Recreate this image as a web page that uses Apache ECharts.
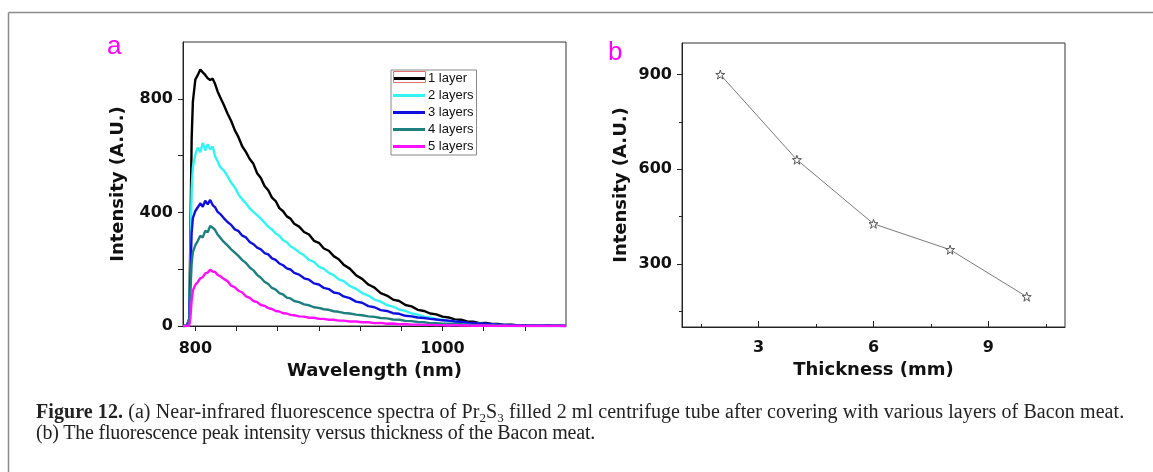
<!DOCTYPE html>
<html>
<head>
<meta charset="utf-8">
<script src="https://cdn.jsdelivr.net/npm/echarts@6.0.0/dist/echarts.min.js"></script>
<style>
  html, body { margin: 0; padding: 0; background: #fff; }
  #wrap { position: relative; width: 1153px; height: 472px; overflow: hidden; }
  #chart { position: absolute; left: 0; top: 0; width: 1153px; height: 472px; }
  #caption { position: absolute; left: 36px; top: 401px; font-family: "Liberation Serif", "DejaVu Serif", serif;
             font-size: 20px; line-height: 21px; color: #222; white-space: nowrap; letter-spacing: 0.08px; }
  #caption sub { font-size: 13px; line-height: 0; vertical-align: -4px; }
  #caption .l2 { letter-spacing: -0.2px; }
</style>
</head>
<body>
<div id="wrap">
  <div id="chart"></div>
  <div id="caption"><b>Figure 12.</b> (a) Near-infrared fluorescence spectra of Pr<sub>2</sub>S<sub>3</sub> filled 2 ml centrifuge tube after covering with various layers of Bacon meat.<br><span class="l2">(b) The fluorescence peak intensity versus thickness of the Bacon meat.</span></div>
</div>
<script>
// ---------- Panel a: NIR fluorescence spectra ----------
const wavelength = [790, 793, 795, 796, 797, 798,
  800, 802, 804, 806, 808, 810, 812, 814, 816, 818, 820,
  823, 826, 829, 832, 835, 838, 841, 844, 847, 850, 853, 856, 859, 862, 865, 868, 871, 874, 877, 880,
  884, 888, 892, 896, 900, 904, 908, 912, 916, 920,
  925, 930, 935, 940, 945, 950, 955, 960, 965, 970, 975, 980, 985, 990, 995, 1000,
  1005, 1010, 1015, 1020, 1025, 1030, 1035, 1040, 1045, 1050,
  1055, 1060, 1065, 1070, 1075, 1080, 1085, 1090, 1095, 1100];

const layer1 = [0, 1, 25, 320, 660, 790,
  868, 884, 903, 893, 884, 872, 866, 871, 852, 826, 806,
  779, 748, 722, 689, 664, 632, 612, 588, 571, 538, 521, 493, 478, 452, 440, 415, 404, 386, 378, 360,
  350, 331, 322, 300, 293, 273, 265, 246, 235, 216,
  202, 179, 166, 146, 135, 116, 107, 93, 88, 74, 69, 57, 53, 44, 41, 33,
  30, 23, 22, 16, 15, 10, 11, 7, 7, 4,
  5, 3, 3, 2, 3, 1, 2, 1, 1, 0];

const layer2 = [0, 1, 20, 250, 480, 560,
  605, 628, 612, 645, 618, 640, 622, 632, 598, 580, 560,
  548, 528, 505, 488, 462, 446, 432, 414, 402, 390, 378, 364, 350, 340, 326, 318, 302, 295, 281, 273,
  260, 249, 233, 226, 209, 201, 187, 179, 164, 158,
  141, 131, 116, 107, 93, 86, 74, 68, 58, 53, 44, 40, 33, 30, 24, 22,
  17, 16, 12, 11, 8, 8, 6, 6, 4, 4,
  3, 3, 2, 2, 1, 1, 0, 1, 0, 0];

const layer3 = [0, 1, 15, 180, 330, 380,
  405, 418, 432, 420, 441, 428, 444, 426, 418, 402, 395,
  380, 366, 356, 340, 334, 318, 312, 296, 288, 276, 270, 257, 252, 238, 233, 220, 214, 203, 199, 187,
  181, 168, 163, 150, 146, 134, 130, 118, 115, 104,
  98, 86, 82, 70, 66, 56, 53, 45, 43, 36, 34, 30, 28, 25, 23, 20,
  19, 16, 15, 12, 11, 8, 8, 6, 5, 4,
  4, 3, 3, 2, 2, 1, 2, 1, 1, 0];

const layer4 = [0, 0, 10, 120, 220, 260,
  285, 300, 318, 312, 335, 330, 352, 346, 338, 322, 312,
  296, 284, 270, 258, 246, 232, 222, 206, 196, 180, 170, 156, 148, 134, 128, 116, 111, 100, 97, 88,
  84, 76, 73, 66, 64, 59, 57, 52, 50, 46,
  44, 40, 38, 34, 32, 28, 27, 23, 22, 18, 17, 14, 13, 10, 10, 8,
  8, 6, 6, 4, 4, 3, 3, 2, 2, 1,
  1, 0, 1, 0, 1, 0, 0, 1, 0, 0];

const layer5 = [0, 0, 0, 30, 90, 125,
  145, 155, 168, 172, 185, 188, 198, 192, 190, 180, 176,
  166, 158, 142, 136, 124, 118, 104, 99, 88, 84, 74, 71, 63, 60, 53, 51, 45, 44, 39, 38,
  34, 33, 29, 29, 25, 25, 22, 22, 19, 19,
  16, 16, 13, 13, 10, 11, 8, 9, 6, 7, 5, 5, 4, 4, 3, 3,
  2, 3, 2, 2, 1, 2, 1, 1, 0, 1,
  0, 1, 0, 0, 1, 0, 0, 0, 0, 0];

const seriesNames = ['1 layer', '2 layers', '3 layers', '4 layers', '5 layers'];
const seriesColors = ['#000000', '#33f3f3', '#1010dd', '#1f7f7f', '#ff10ff'];

const aXTicks = [800, 833.333, 866.667, 900, 933.333, 966.667, 1000, 1033.333, 1066.667];
const aXLabels = [800, 1000];
const aYTicks = [0, 200, 400, 600, 800];
const aYLabels = [0, 400, 800];

// ---------- Panel b: peak intensity vs thickness ----------
const thickness = [2, 4, 6, 8, 10];
const peakIntensity = [900, 630, 427, 345, 196];

const bXMajor = [3, 6, 9];
const bXMinor = [1.5, 4.5, 7.5, 10.5];
const bYMajor = [300, 600, 900];
const bYMinor = [150, 450, 750];

const zip = (xs, ys) => xs.map((x, i) => [x, ys[i]]);
const plain = v => String(Math.round(v));

const boldFont = 'DejaVu Sans';
const axisColor = '#222';

const chart = echarts.init(document.getElementById('chart'), null, { renderer: 'canvas' });

const spectra = [layer1, layer2, layer3, layer4, layer5];

const starPath = 'path://M50,2 L61.5,36 L97,36 L68.5,57.5 L79.5,92 L50,71 L20.5,92 L31.5,57.5 L3,36 L38.5,36 Z';

const labelStyle = { fontFamily: boldFont, fontWeight: 'bold', fontSize: 16, color: '#111', formatter: plain };
const nameStyle = { fontFamily: boldFont, fontWeight: 'bold', fontSize: 18, color: '#111' };

const option = {
  backgroundColor: '#ffffff',
  animation: false,
  grid: [
    { left: 183, top: 42, width: 383, height: 284, show: true, borderColor: '#333', borderWidth: 1, backgroundColor: 'transparent' },
    { left: 682, top: 43, width: 383, height: 284, show: true, borderColor: '#333', borderWidth: 1, backgroundColor: 'transparent' }
  ],
  xAxis: [
    {
      type: 'value', gridIndex: 0, position: 'bottom', min: 790, max: 1100,
      name: 'Wavelength (nm)', nameLocation: 'middle', nameGap: 27, nameTextStyle: nameStyle,
      axisLine: { show: true, onZero: false, lineStyle: { color: axisColor, width: 1 } },
      axisTick: { show: true, inside: false, length: 5, customValues: aXTicks, lineStyle: { color: axisColor } },
      axisLabel: Object.assign({ customValues: aXLabels, margin: 15 }, labelStyle),
      splitLine: { show: false }
    },
    {
      type: 'value', gridIndex: 1, position: 'bottom', min: 1, max: 11,
      name: 'Thickness (mm)', nameLocation: 'middle', nameGap: 29, nameTextStyle: nameStyle,
      axisLine: { show: true, onZero: false, lineStyle: { color: axisColor, width: 1 } },
      axisTick: { show: true, inside: true, length: 6, customValues: bXMajor, lineStyle: { color: axisColor } },
      axisLabel: Object.assign({ customValues: bXMajor, margin: 13 }, labelStyle),
      splitLine: { show: false }
    },
    {
      type: 'value', gridIndex: 1, position: 'bottom', offset: 0, min: 1, max: 11,
      axisLine: { show: false, onZero: false },
      axisTick: { show: true, inside: true, length: 3, customValues: bXMinor, lineStyle: { color: axisColor } },
      axisLabel: { show: false },
      splitLine: { show: false }
    }
  ],
  yAxis: [
    {
      type: 'value', gridIndex: 0, position: 'left', min: 0, max: 1000,
      name: 'Intensity (A.U.)', nameLocation: 'middle', nameGap: 56, nameTextStyle: nameStyle,
      axisLine: { show: true, onZero: false, lineStyle: { color: axisColor, width: 1 } },
      axisTick: { show: true, inside: false, length: 5, customValues: aYTicks, lineStyle: { color: axisColor } },
      axisLabel: Object.assign({ customValues: aYLabels, margin: 10 }, labelStyle),
      splitLine: { show: false }
    },
    {
      type: 'value', gridIndex: 1, position: 'left', min: 100, max: 1000,
      name: 'Intensity (A.U.)', nameLocation: 'middle', nameGap: 52, nameTextStyle: nameStyle,
      axisLine: { show: true, onZero: false, lineStyle: { color: axisColor, width: 1 } },
      axisTick: { show: true, inside: false, length: 5, customValues: bYMajor, lineStyle: { color: axisColor } },
      axisLabel: Object.assign({ customValues: bYMajor, margin: 10 }, labelStyle),
      splitLine: { show: false }
    },
    {
      type: 'value', gridIndex: 1, position: 'left', offset: 0, min: 100, max: 1000,
      axisLine: { show: false, onZero: false },
      axisTick: { show: true, inside: false, length: 3, customValues: bYMinor, lineStyle: { color: axisColor } },
      axisLabel: { show: false },
      splitLine: { show: false }
    }
  ],
  legend: {
    data: seriesNames,
    orient: 'vertical',
    left: 391, top: 70,
    icon: 'rect',
    itemWidth: 32, itemHeight: 3, itemGap: 4,
    padding: [2, 3, 2, 2],
    borderColor: '#888', borderWidth: 1,
    textStyle: { fontFamily: 'Liberation Sans', fontSize: 13, color: '#111', padding: [0, 0, 0, -2] },
    selectedMode: false
  },
  series: [
    ...spectra.map((vals, i) => ({
      name: seriesNames[i],
      type: 'line',
      xAxisIndex: 0, yAxisIndex: 0,
      data: zip(wavelength, vals),
      showSymbol: false,
      symbol: 'none',
      color: seriesColors[i],
      lineStyle: { color: seriesColors[i], width: 2.4 },
      clip: true,
      z: 2 + i
    })),
    {
      name: 'peak',
      type: 'line',
      xAxisIndex: 1, yAxisIndex: 1,
      data: zip(thickness, peakIntensity),
      symbol: starPath,
      symbolSize: 9,
      showSymbol: true,
      lineStyle: { color: '#7a7a7a', width: 1 },
      itemStyle: { color: '#ffffff', borderColor: '#555', borderWidth: 1 },
      z: 3
    }
  ],
  graphic: [
    { type: 'line', shape: { x1: 8.5, y1: 12.5, x2: 1153, y2: 12.5 }, style: { stroke: '#8c8c8c', lineWidth: 1.5 }, silent: true },
    { type: 'line', shape: { x1: 8.5, y1: 12.5, x2: 8.5, y2: 472 }, style: { stroke: '#8c8c8c', lineWidth: 1.5 }, silent: true },
    { type: 'text', left: 107, top: 34, style: { text: 'a', fill: '#ff00ff', font: '26px "Liberation Sans", Arial, sans-serif' }, silent: true },
    { type: 'text', left: 608, top: 40, style: { text: 'b', fill: '#ff00ff', font: '26px "Liberation Sans", Arial, sans-serif' }, silent: true },
    { type: 'rect', shape: { x: 393.5, y: 71.5, width: 32, height: 11 }, style: { fill: 'none', stroke: '#e07070', lineWidth: 1 }, z: 100, silent: true }
  ]
};

chart.setOption(option);
</script>
</body>
</html>
